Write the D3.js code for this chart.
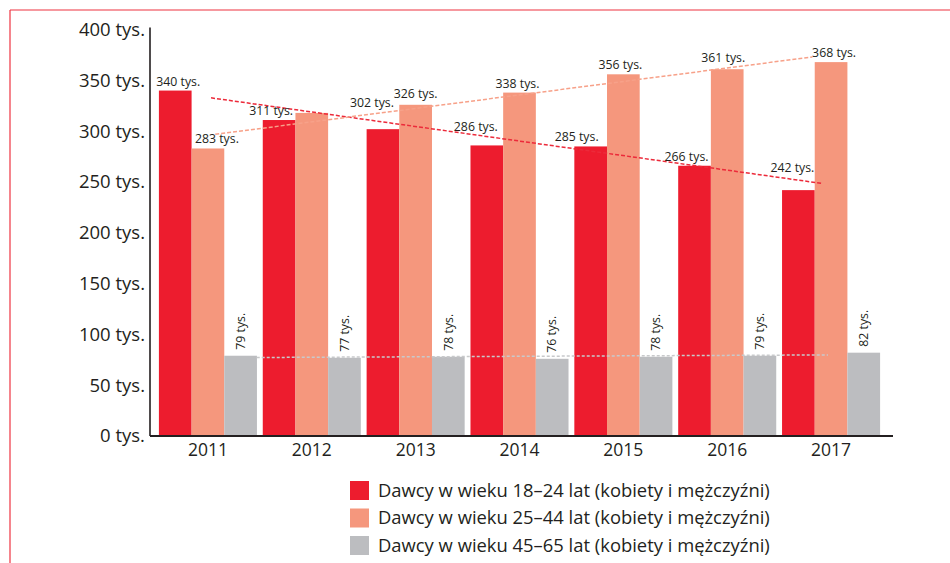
<!DOCTYPE html>
<html>
<head>
<meta charset="utf-8">
<script src="https://cdn.jsdelivr.net/npm/d3@7"></script>
<style>
  html, body { margin: 0; padding: 0; background: #fff; }
  svg { display: block; font-family: "Open Sans", "Noto Sans", sans-serif; }
</style>
</head>
<body>
<svg id="chart" width="950" height="563"></svg>
<script>
// ---- data ----
const years = ["2011", "2012", "2013", "2014", "2015", "2016", "2017"];
const donors18_24 = [340, 311, 302, 286, 285, 266, 242];
const donors25_44 = [283, 318, 326, 338, 356, 361, 368];
const donors45_65 = [79, 77, 78, 76, 78, 79, 82];
const labels18_24 = ["340 tys.", "311 tys.", "302 tys.", "286 tys.", "285 tys.", "266 tys.", "242 tys."];
const labels25_44 = ["283 tys.", "", "326 tys.", "338 tys.", "356 tys.", "361 tys.", "368 tys."];
const labels45_65 = ["79 tys.", "77 tys.", "78 tys.", "76 tys.", "78 tys.", "79 tys.", "82 tys."];
const seriesNames = [
  "Dawcy w wieku 18–24 lat (kobiety i mężczyźni)",
  "Dawcy w wieku 25–44 lat (kobiety i mężczyźni)",
  "Dawcy w wieku 45–65 lat (kobiety i mężczyźni)"
];
const yTicks = [0, 50, 100, 150, 200, 250, 300, 350, 400];
const tickSuffix = " tys.";

// ---- style / layout ----
const colors = ["#ED1C2E", "#F5977D", "#BCBDC0"];
const trendColors = ["#EC2A3A", "#F7A189", "#C8C9CB"];
const textColor = "#231F20";
// small label nudges (layout only): [dx, dy] per year
const nudge18_24 = [[3,0],[-8,0],[-11,-17],[-11,-9],[-14,0],[-8,0],[-6,-13]];
const nudge25_44 = [[9,0],[0,0],[0,-2],[-2,0],[-3,0],[-4,-2],[3,0]];
// trend line extents in index units
const trendExtent = [[0.03, 5.92], [0.07, 5.82], [0.47, 5.97]];

const svg = d3.select("#chart");

// frame
svg.append("line").attr("x1", 10).attr("y1", 10).attr("x2", 950).attr("y2", 10)
  .attr("stroke", "#EE3340").attr("stroke-width", 1.2);
svg.append("line").attr("x1", 10).attr("y1", 10).attr("x2", 10).attr("y2", 563)
  .attr("stroke", "#EE3340").attr("stroke-width", 1.2);

const y = d3.scaleLinear().domain([0, 400]).range([436, 29.6]);
const x = d3.scaleBand().domain(years).range([156, 883]).paddingInner(0.056).paddingOuter(0.028);
const series = [donors18_24, donors25_44, donors45_65];
const sub = d3.scaleBand().domain([0, 1, 2]).range([0, x.bandwidth()]).padding(0);

// bars
series.forEach((vals, si) => {
  svg.append("g").selectAll("rect").data(vals).join("rect")
    .attr("x", (d, i) => x(years[i]) + sub(si))
    .attr("y", d => y(d))
    .attr("width", sub.bandwidth())
    .attr("height", d => y(0) - y(d))
    .attr("fill", colors[si]);
});

// trend lines (least squares over year index)
function regression(vals) {
  const mx = d3.mean(vals, (d, i) => i), my = d3.mean(vals);
  let num = 0, den = 0;
  vals.forEach((v, i) => { num += (i - mx) * (v - my); den += (i - mx) * (i - mx); });
  const b = num / den; const a = my - b * mx;
  return t => a + b * t;
}
const step = x.step();
const cx0 = x(years[0]) + x.bandwidth() / 2;
const idxToX = t => cx0 + t * step;
series.forEach((vals, si) => {
  const f = regression(vals);
  const [t0, t1] = trendExtent[si];
  svg.append("line")
    .attr("x1", idxToX(t0)).attr("y1", y(f(t0)))
    .attr("x2", idxToX(t1)).attr("y2", y(f(t1)))
    .attr("stroke", trendColors[si])
    .attr("stroke-width", 1.5)
    .attr("stroke-dasharray", si === 2 ? "3,2" : "4,2");
});

// value labels
const lblFont = 12.3;
svg.append("g").selectAll("text").data(donors18_24).join("text")
  .attr("x", (d, i) => x(years[i]) + sub(0) + sub.bandwidth() / 2 + nudge18_24[i][0])
  .attr("y", (d, i) => y(d) - 5 + nudge18_24[i][1])
  .attr("text-anchor", "middle").attr("font-size", lblFont).attr("fill", textColor)
  .text((d, i) => labels18_24[i]);
svg.append("g").selectAll("text").data(donors25_44).join("text")
  .attr("x", (d, i) => x(years[i]) + sub(1) + sub.bandwidth() / 2 + nudge25_44[i][0])
  .attr("y", (d, i) => y(d) - 5 + nudge25_44[i][1])
  .attr("text-anchor", "middle").attr("font-size", lblFont).attr("fill", textColor)
  .text((d, i) => labels25_44[i]);
svg.append("g").selectAll("text").data(donors45_65).join("text")
  .attr("transform", (d, i) => `translate(${x(years[i]) + sub(2) + sub.bandwidth() / 2},${y(d) - 6}) rotate(-90)`)
  .attr("text-anchor", "start").attr("dy", "0.35em")
  .attr("font-size", lblFont).attr("fill", textColor)
  .text((d, i) => labels45_65[i]);

// y axis
const yAxis = svg.append("g").attr("transform", "translate(150,0)")
  .call(d3.axisLeft(y).tickValues(yTicks).tickSize(0).tickPadding(5).tickFormat(d => d + tickSuffix));
yAxis.select(".domain").attr("stroke", textColor).attr("stroke-width", 1.6)
  .attr("d", `M0,${y(400) - 2}V${y(0)}`);
yAxis.selectAll("text").attr("font-size", 18.5).attr("fill", textColor)
  .attr("font-family", "'Open Sans', sans-serif");

// x axis
const xAxis = svg.append("g").attr("transform", `translate(0,${y(0)})`)
  .call(d3.axisBottom(x).tickSize(0).tickPadding(8));
xAxis.select(".domain").remove();
xAxis.selectAll("text").attr("font-size", 17.5).attr("fill", textColor)
  .attr("font-family", "'Open Sans', sans-serif");
svg.append("line").attr("x1", 150).attr("x2", x.range()[1] + 10)
  .attr("y1", y(0)).attr("y2", y(0)).attr("stroke", textColor).attr("stroke-width", 2);

// legend
const legend = svg.append("g").attr("transform", "translate(350,481)");
seriesNames.forEach((name, i) => {
  const g = legend.append("g").attr("transform", `translate(0,${i * 27.5})`);
  g.append("rect").attr("width", 19).attr("height", 19).attr("fill", colors[i]);
  g.append("text").attr("x", 28).attr("y", 9.5).attr("dy", "0.35em")
    .attr("font-size", 18.4).attr("fill", textColor).text(name);
});
</script>
</body>
</html>
